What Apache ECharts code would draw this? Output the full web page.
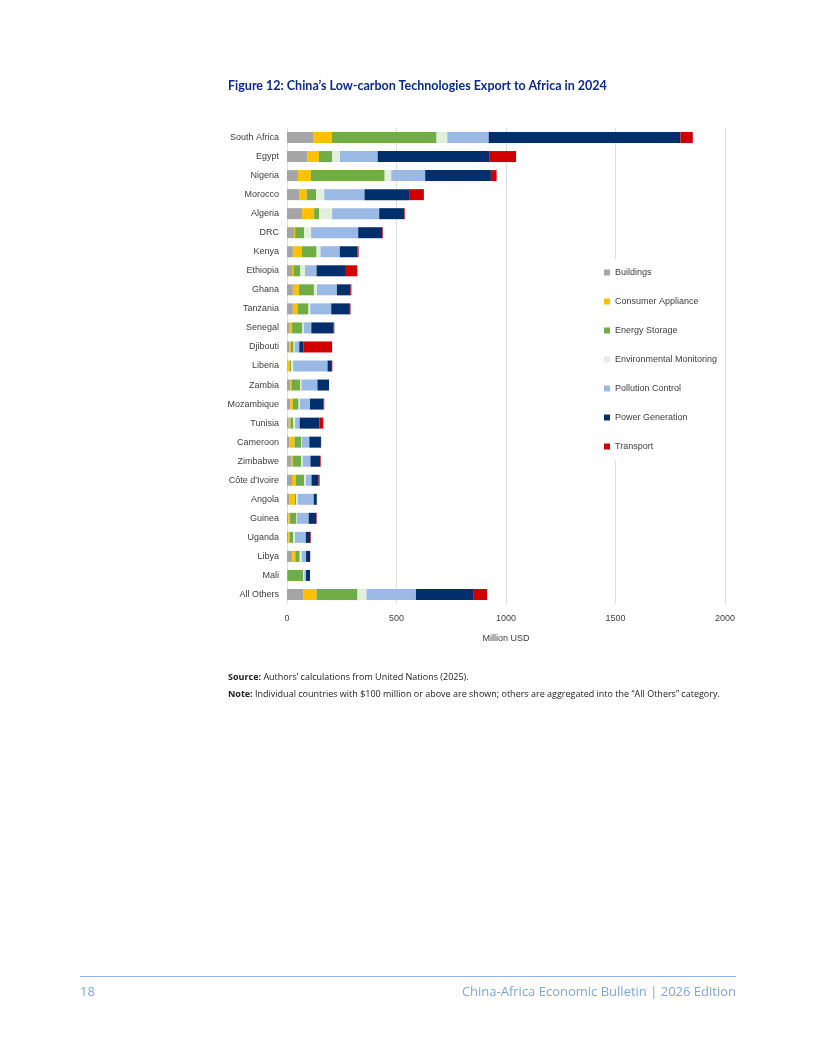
<!DOCTYPE html>
<html>
<head>
<meta charset="utf-8">
<script src="https://cdn.jsdelivr.net/npm/echarts@6/dist/echarts.min.js"></script>
<style>
body{margin:0;background:#fff;font-family:"Open Sans","Noto Sans",sans-serif;}
#page{position:relative;width:816px;height:1056px;}
#container{position:absolute;left:0;top:0;width:816px;height:1056px;}
.txt{position:absolute;}
</style>
</head>
<body>
<div id="page">
<div id="container"></div>
<div class="txt" style="left:228px;top:78px;font-size:12.5px;font-weight:bold;color:#0b2a8a;font-family:Lato,'Open Sans',sans-serif;">Figure 12: China’s Low-carbon Technologies Export to Africa in 2024</div>
<div class="txt" style="left:228px;top:670px;font-size:9px;color:#222;"><b>Source:</b> Authors’ calculations from United Nations (2025).</div>
<div class="txt" style="left:228px;top:687px;font-size:9px;color:#222;"><b>Note:</b> Individual countries with $100 million or above are shown; others are aggregated into the “All Others” category.</div>
<div class="txt" style="left:80px;top:976px;width:656px;border-top:1px solid #8fb3e8;"></div>
<div class="txt" style="left:80px;top:982px;font-size:13px;color:#7ea6e0;">18</div>
<div class="txt" style="right:80px;top:982px;font-size:13px;color:#7ea6e0;">China-Africa Economic Bulletin |  2026 Edition</div>
</div>
<script>
var countries=['South Africa','Egypt','Nigeria','Morocco','Algeria','DRC','Kenya','Ethiopia','Ghana','Tanzania','Senegal','Djibouti','Liberia','Zambia','Mozambique','Tunisia','Cameroon','Zimbabwe','Côte d\'Ivoire','Angola','Guinea','Uganda','Libya','Mali','All Others'];
var buildings=[122,94,50,55,69,32,27,23,27,27,9,12,3,15,15,8,11,18,23,12,6,6,24,2,76];
var consumerAppliance=[82,52,59,35,55,5,41,6,27,21,14,6,11,5,12,8,23,8,18,24,8,5,14,0,59];
var energyStorage=[479,61,337,43,23,41,67,32,69,50,47,12,5,40,26,12,30,38,37,5,29,17,20,72,187];
var envMonitoring=[49,35,30,37,59,32,18,21,14,8,6,5,9,6,6,9,3,8,8,8,3,8,9,5,41];
var pollutionControl=[189,172,155,184,215,215,88,53,91,96,35,21,157,73,46,21,35,35,26,73,53,50,20,8,226];
var powerGeneration=[876,509,300,207,114,110,81,134,61,85,102,20,20,53,62,91,53,44,32,14,35,20,18,18,264];
var transport=[56,123,26,64,3,3,5,52,5,3,3,130,2,0,3,17,1,3,5,0,2,3,1,0,61];
var xTicks=[0,500,1000,1500,2000];

var seriesDefs=[
  ['Buildings',buildings,'#a5a5a5'],
  ['Consumer Appliance',consumerAppliance,'#ffc000'],
  ['Energy Storage',energyStorage,'#70ad47'],
  ['Environmental Monitoring',envMonitoring,'#e2efda'],
  ['Pollution Control',pollutionControl,'#9bb9e5'],
  ['Power Generation',powerGeneration,'#002f6c'],
  ['Transport',transport,'#d00000']
];

var myChart=echarts.init(document.getElementById('container'));
var option={
  animation:false,
  textStyle:{fontFamily:'Liberation Sans, Arial, sans-serif'},
  grid:{left:287,right:91,top:128,bottom:452},
  legend:{
    orient:'vertical',left:600,top:259,
    itemWidth:6,itemHeight:6,itemGap:18,icon:'rect',
    backgroundColor:'#fff',padding:[8,4,8,4],
    textStyle:{fontSize:9,color:'#404040',lineHeight:11},
    data:seriesDefs.map(function(s){return s[0];})
  },
  xAxis:{
    type:'value',min:xTicks[0],max:xTicks[xTicks.length-1],interval:500,
    name:'Million USD',nameLocation:'middle',nameGap:30,
    nameTextStyle:{fontSize:9,color:'#404040'},
    axisLabel:{fontSize:9,color:'#404040',margin:10,formatter:function(v){return String(v);}},
    axisLine:{show:false},axisTick:{show:false},
    splitLine:{lineStyle:{color:'#e0e0e0'}}
  },
  yAxis:{
    type:'category',inverse:true,data:countries,
    axisLabel:{fontSize:9,color:'#404040',margin:8},
    axisLine:{show:false},axisTick:{show:false}
  },
  series:seriesDefs.map(function(s){
    return {name:s[0],type:'bar',stack:'total',data:s[1],barWidth:11,
      itemStyle:{color:s[2]}};
  })
};
myChart.setOption(option);
</script>
</body>
</html>
